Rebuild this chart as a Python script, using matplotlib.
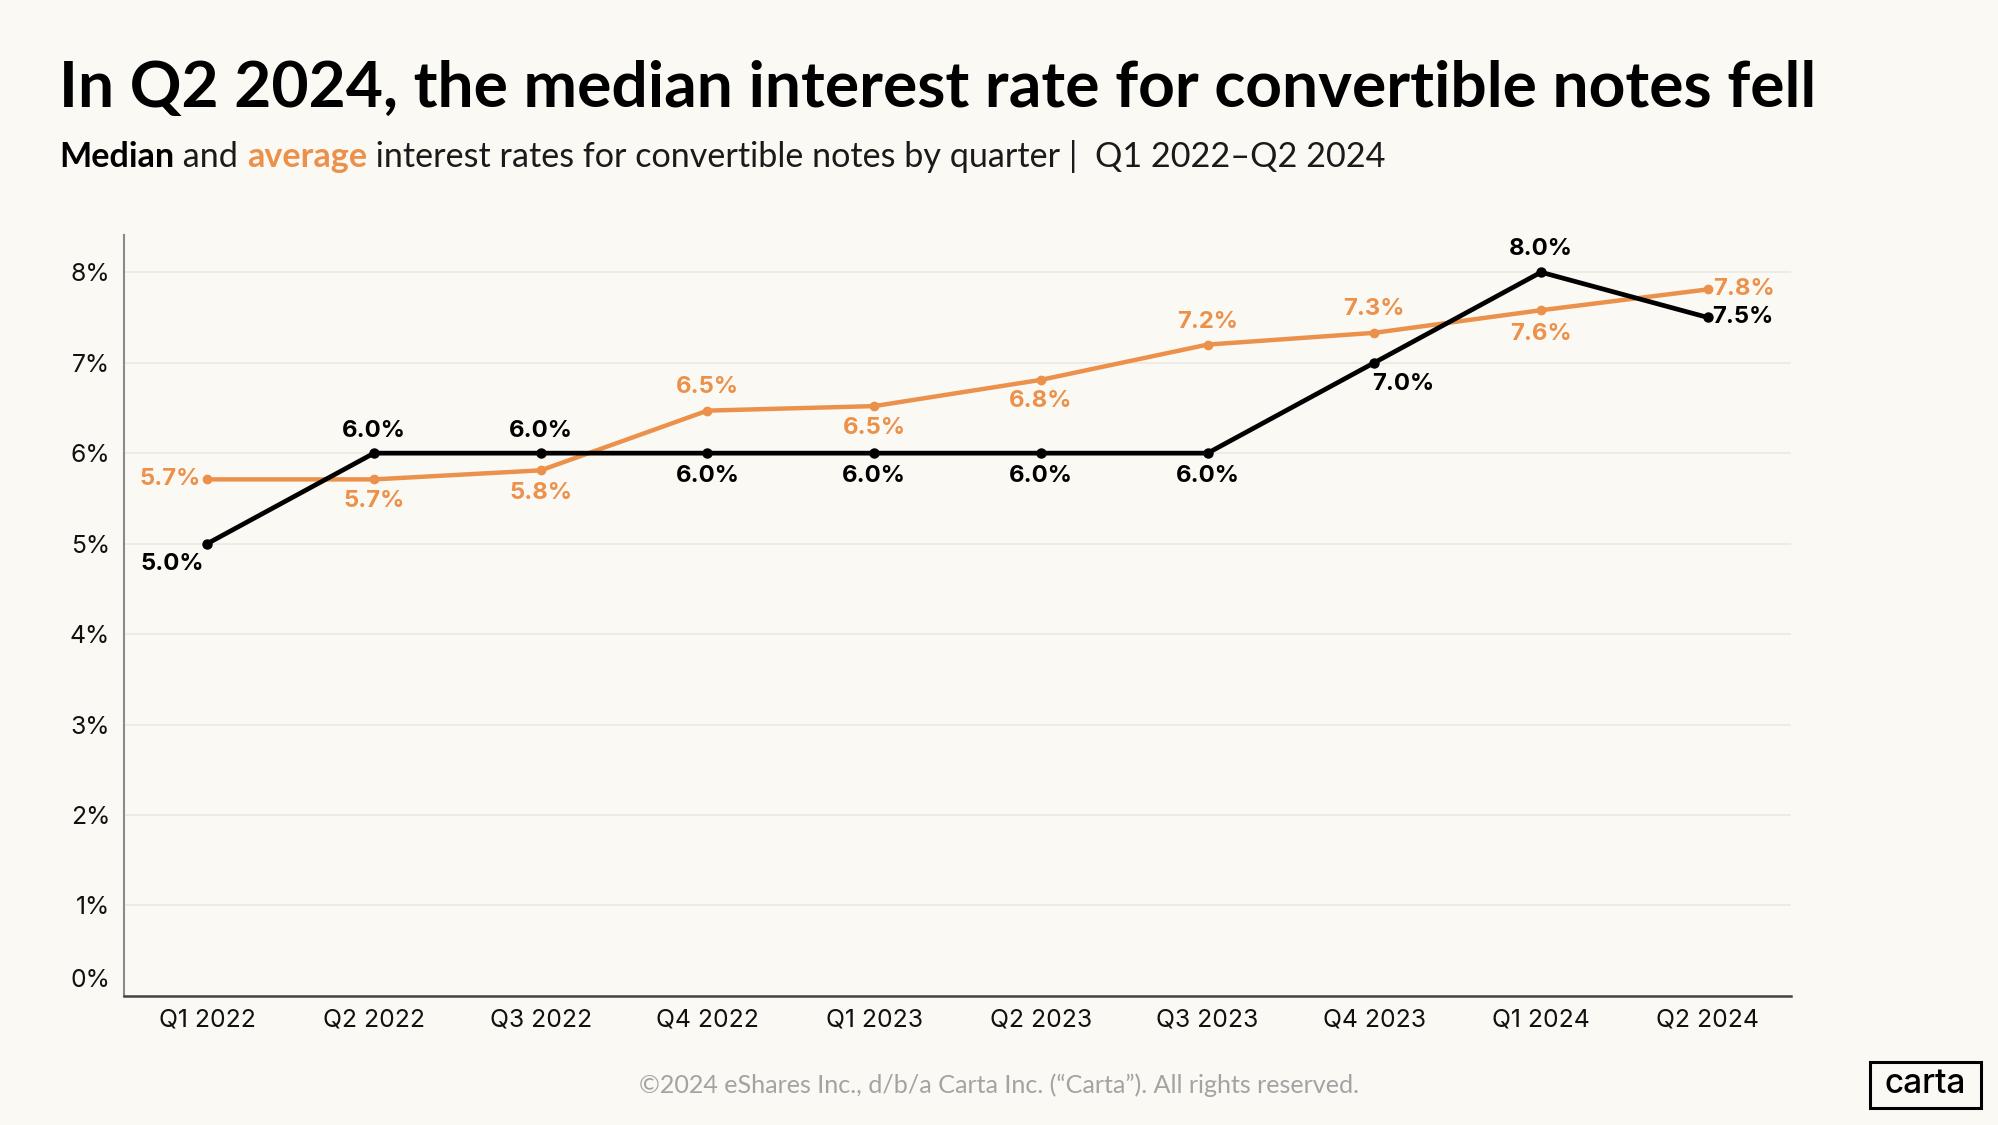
import matplotlib
matplotlib.use("Agg")
import matplotlib.pyplot as plt
from matplotlib.patches import Rectangle
from matplotlib.transforms import ScaledTranslation

quarters = ["Q1 2022", "Q2 2022", "Q3 2022", "Q4 2022", "Q1 2023",
            "Q2 2023", "Q3 2023", "Q4 2023", "Q1 2024", "Q2 2024"]
median = [5.0, 6.0, 6.0, 6.0, 6.0, 6.0, 6.0, 7.0, 8.0, 7.5]
average = [5.71, 5.71, 5.81, 6.47, 6.52, 6.81, 7.2, 7.33, 7.58, 7.81]
median_labels = ["5.0%", "6.0%", "6.0%", "6.0%", "6.0%", "6.0%", "6.0%", "7.0%", "8.0%", "7.5%"]
average_labels = ["5.7%", "5.7%", "5.8%", "6.5%", "6.5%", "6.8%", "7.2%", "7.3%", "7.6%", "7.8%"]
yticks = [0, 1, 2, 3, 4, 5, 6, 7, 8]
ytick_labels = ["0%", "1%", "2%", "3%", "4%", "5%", "6%", "7%", "8%"]

# label placement: (dx, dy) in points, ha
median_pos = [(-25, -15, "center"), (0, 16, "center"), (0, 16, "center"), (0, -16.5, "center"),
              (0, -16.5, "center"), (0, -16.5, "center"), (0, -16.5, "center"), (21, -15.5, "center"),
              (0, 17, "center"), (3, 0, "left")]
average_pos = [(-5, 0, "right"), (0, -15.5, "center"), (0, -16, "center"), (0, 17, "center"),
               (0, -16, "center"), (0, -15.5, "center"), (0, 16, "center"), (0, 17, "center"),
               (0, -17, "center"), (4, 0, "left")]

BG = "#FBF9F4"
ORANGE = "#EC914B"
BLACK = "#000000"
TITLE_FONT = "Lato"
BODY_FONT = "Inter"

plt.rcParams["font.family"] = [BODY_FONT, "DejaVu Sans"]

fig = plt.figure(figsize=(19.99, 11.25), dpi=100, facecolor=BG)
ax = fig.add_axes([0.062, 0.1147, 0.834, 0.6763])
ax.set_facecolor(BG)

x = list(range(len(quarters)))
ax.plot(x, average, color=ORANGE, lw=3.2, marker="o", ms=6, zorder=3, solid_capstyle="round")
ax.plot(x, median, color=BLACK, lw=3.4, marker="o", ms=6.5, zorder=4, solid_capstyle="round")

for xi, v, lab, (dx, dy, ha) in zip(x, median, median_labels, median_pos):
    ax.annotate(lab, (xi, v), xytext=(dx, dy), textcoords="offset points",
                ha=ha, va="center", fontsize=17.2, fontweight="bold", color=BLACK, zorder=5)
for xi, v, lab, (dx, dy, ha) in zip(x, average, average_labels, average_pos):
    ax.annotate(lab, (xi, v), xytext=(dx, dy), textcoords="offset points",
                ha=ha, va="center", fontsize=17.2, fontweight="bold", color=ORANGE, zorder=5)

ax.set_xlim(-0.5, 9.5)
ax.set_ylim(0, 8.41)
ax.set_yticks(yticks)
ax.set_yticklabels(ytick_labels)
ax.set_xticks(x)
ax.set_xticklabels(quarters)
ax.tick_params(axis="both", length=0, labelsize=17.8, colors="#111111")
ax.tick_params(axis="y", pad=10)
ax.tick_params(axis="x", pad=9)
lab0 = ax.get_yticklabels()[0]
lab0.set_transform(lab0.get_transform() + ScaledTranslation(0, 13 / 72, fig.dpi_scale_trans))
ax.grid(axis="y", color="#ECE9E4", lw=1.2, zorder=0)
ax.set_axisbelow(True)
for s in ["top", "right"]:
    ax.spines[s].set_visible(False)
ax.spines["left"].set_color("#8a8a8a")
ax.spines["left"].set_linewidth(1.5)
ax.spines["bottom"].set_color("#444444")
ax.spines["bottom"].set_linewidth(1.8)

# Title
fig.text(0.0295, 0.905, "In Q2 2024, the median interest rate for convertible notes fell",
         fontsize=46.2, fontweight="bold", color="#000000", ha="left", va="baseline",
         family=[TITLE_FONT, "DejaVu Sans"])

# Subtitle with mixed styles
renderer = fig.canvas.get_renderer()
parts = [("Median", "bold", BLACK), (" and ", "normal", "#1a1a1a"), ("average", "bold", ORANGE),
         (" interest rates for convertible notes by quarter |  Q1 2022\u2013Q2 2024", "normal", "#1a1a1a")]
xpos = 0.0295
ypos = 0.8516
for txt, w, c in parts:
    t = fig.text(xpos, ypos, txt, fontsize=24.6, fontweight=w, color=c, ha="left", va="baseline",
                 family=[TITLE_FONT, "DejaVu Sans"])
    bb = t.get_window_extent(renderer=renderer)
    xpos += bb.width / fig.bbox.width

# Footer
fig.text(0.4995, 0.035, "\u00a92024 eShares Inc., d/b/a Carta Inc. (\u201cCarta\u201d). All rights reserved.",
         fontsize=18.1, color="#a3a3a3", ha="center", va="center",
         family=[TITLE_FONT, "DejaVu Sans"])

# Carta logo
fig.patches.append(Rectangle((0.9355, 0.0151), 0.0555, 0.0409, transform=fig.transFigure,
                             fill=False, edgecolor="#000000", lw=2.2))
fig.text(0.9632, 0.0365, "carta", fontsize=24, color="#000000", ha="center", va="center",
         fontweight="medium")

fig.savefig("out.png", dpi=100, facecolor=BG)
